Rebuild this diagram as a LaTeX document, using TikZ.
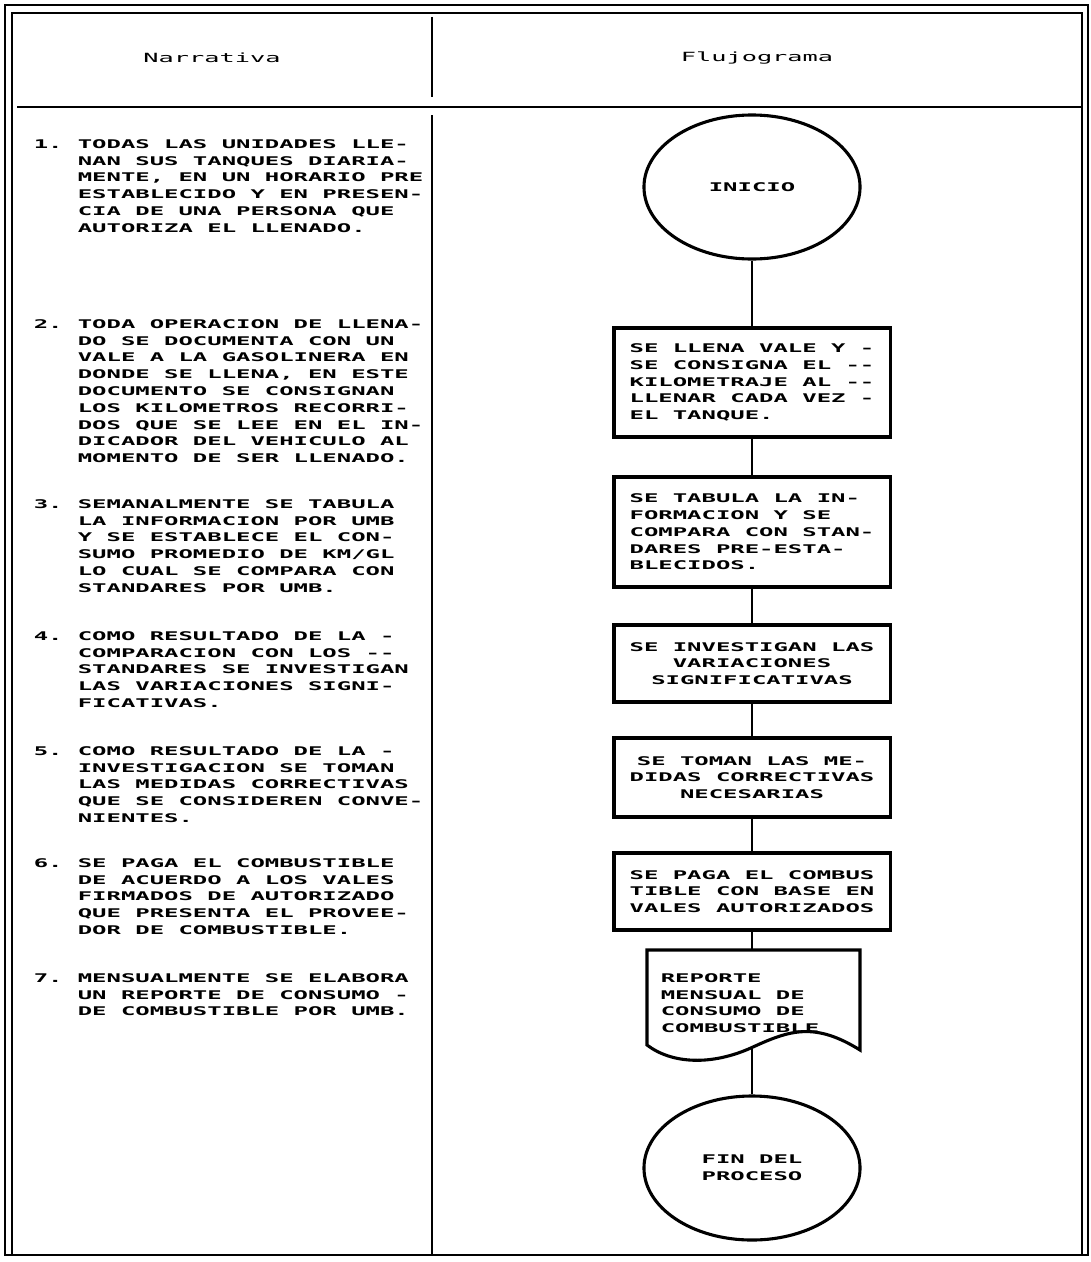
\documentclass[tikz,border=0pt]{standalone}
\usepackage{fontspec}
\usetikzlibrary{positioning,shapes.geometric}
\newfontfamily\dotfont[FakeStretch=2.0]{DejaVu Sans Mono}
\tikzset{every picture/.style={line width=1.2pt}}

\begin{document}
\begin{tikzpicture}[x=0.025cm, y=-0.025cm,
    every node/.style={font=\dotfont\bfseries\fontsize{8.5}{11.95}\selectfont, inner sep=0pt},
    item/.style={anchor=north west, align=left},
    num/.style={anchor=north west},
    enc/.style={font=\dotfont\fontsize{9}{11.95}\selectfont},
    paso/.style={draw, rectangle, line width=2.2pt, minimum width=6.9cm},
    term/.style={draw, ellipse, line width=2.2pt, minimum width=5.4cm, minimum height=3.6cm},
    flecha/.style={line width=1.7pt}]
        \useasboundingbox (0,0) rectangle (1091,1262);
        % marco doble y columnas
        \draw (5,5) rectangle (1088,1255);
        \draw (12,1255) -- (12,13) -- (1082,13) -- (1082,1255);
        \draw[line width=1.6pt] (17,107) -- (1082,107);
        \draw (432,17) -- (432,97);
        \draw (432,115) -- (432,1255);
        \node[enc] (narr) at (212,58) {Narrativa};
        \node[enc] (fluj) at (757,58) {Flujograma};

        % narrativa
        \node[item] (t1) at (77,138.6) {TODAS LAS UNIDADES LLE-\\NAN SUS TANQUES DIARIA-\\MENTE, EN UN HORARIO PRE\\ESTABLECIDO Y EN PRESEN-\\CIA DE UNA PERSONA QUE\\AUTORIZA EL LLENADO.};
        \node[item] (t2) at (77,318.6) {TODA OPERACION DE LLENA-\\DO SE DOCUMENTA CON UN\\VALE A LA GASOLINERA EN\\DONDE SE LLENA, EN ESTE\\DOCUMENTO SE CONSIGNAN\\LOS KILOMETROS RECORRI-\\DOS QUE SE LEE EN EL IN-\\DICADOR DEL VEHICULO AL\\MOMENTO DE SER LLENADO.};
        \node[item] (t3) at (77,498.6) {SEMANALMENTE SE TABULA\\LA INFORMACION POR UMB\\Y SE ESTABLECE EL CON-\\SUMO PROMEDIO DE KM/GL\\LO CUAL SE COMPARA CON\\STANDARES POR UMB.};
        \node[item] (t4) at (77,630.6) {COMO RESULTADO DE LA -\\COMPARACION CON LOS -{}-\\STANDARES SE INVESTIGAN\\LAS VARIACIONES SIGNI-\\FICATIVAS.};
        \node[item] (t5) at (77,745.6) {COMO RESULTADO DE LA -\\INVESTIGACION SE TOMAN\\LAS MEDIDAS CORRECTIVAS\\QUE SE CONSIDEREN CONVE-\\NIENTES.};
        \node[item] (t6) at (77,857.6) {SE PAGA EL COMBUSTIBLE\\DE ACUERDO A LOS VALES\\FIRMADOS DE AUTORIZADO\\QUE PRESENTA EL PROVEE-\\DOR DE COMBUSTIBLE.};
        \node[item] (t7) at (77,972.6) {MENSUALMENTE SE ELABORA\\UN REPORTE DE CONSUMO -\\DE COMBUSTIBLE POR UMB.};
        \node[num, left=1.1cm of t1.north west, anchor=north west] (n1) {1.};
        \node[num, left=1.1cm of t2.north west, anchor=north west] (n2) {2.};
        \node[num, left=1.1cm of t3.north west, anchor=north west] (n3) {3.};
        \node[num, left=1.1cm of t4.north west, anchor=north west] (n4) {4.};
        \node[num, left=1.1cm of t5.north west, anchor=north west] (n5) {5.};
        \node[num, left=1.1cm of t6.north west, anchor=north west] (n6) {6.};
        \node[num, left=1.1cm of t7.north west, anchor=north west] (n7) {7.};

        % flujograma
        \node[term] (ini) at (752,187) {INICIO};
        \node[paso, minimum height=2.725cm, align=left] (p1) at (752,382.5) {SE LLENA VALE Y -\\SE CONSIGNA EL -{}-\\KILOMETRAJE AL -{}-\\LLENAR CADA VEZ -\\EL TANQUE.};
        \node[paso, minimum height=2.75cm, align=left] (p2) at (752,532) {SE TABULA LA IN-\\FORMACION Y SE\\COMPARA CON STAN-\\DARES PRE-ESTA-\\BLECIDOS.};
        \node[paso, minimum height=1.925cm, align=center] (p3) at (752,663.5) {SE INVESTIGAN LAS\\VARIACIONES\\SIGNIFICATIVAS};
        \node[paso, minimum height=1.975cm, align=center] (p4) at (752,777.5) {SE TOMAN LAS ME-\\DIDAS CORRECTIVAS\\NECESARIAS};
        \node[paso, minimum height=1.925cm, align=left] (p5) at (752,891.5) {SE PAGA EL COMBUS\\TIBLE CON BASE EN\\VALES AUTORIZADOS};
        \node[item] (rep) at (660,972.6) {REPORTE\\MENSUAL DE\\CONSUMO DE\\COMBUSTIBLE};
        \draw[line width=2.2pt] (647,950) -- (860,950) -- (860,1050)
            .. controls (815,1022) and (790,1030) .. (753,1047)
            .. controls (712,1066) and (672,1064) .. (647,1045) -- cycle;
        \coordinate (dtop) at (752,950);
        \coordinate (dbot) at (752,1048);
        \node[term, align=left] (fin) at (752,1168) {FIN DEL\\PROCESO};

        \draw[flecha] (ini) -- (p1);
        \draw[flecha] (p1) -- (p2);
        \draw[flecha] (p2) -- (p3);
        \draw[flecha] (p3) -- (p4);
        \draw[flecha] (p4) -- (p5);
        \draw[flecha] (p5) -- (dtop);
        \draw[flecha] (dbot) -- (fin);
\end{tikzpicture}
\end{document}
